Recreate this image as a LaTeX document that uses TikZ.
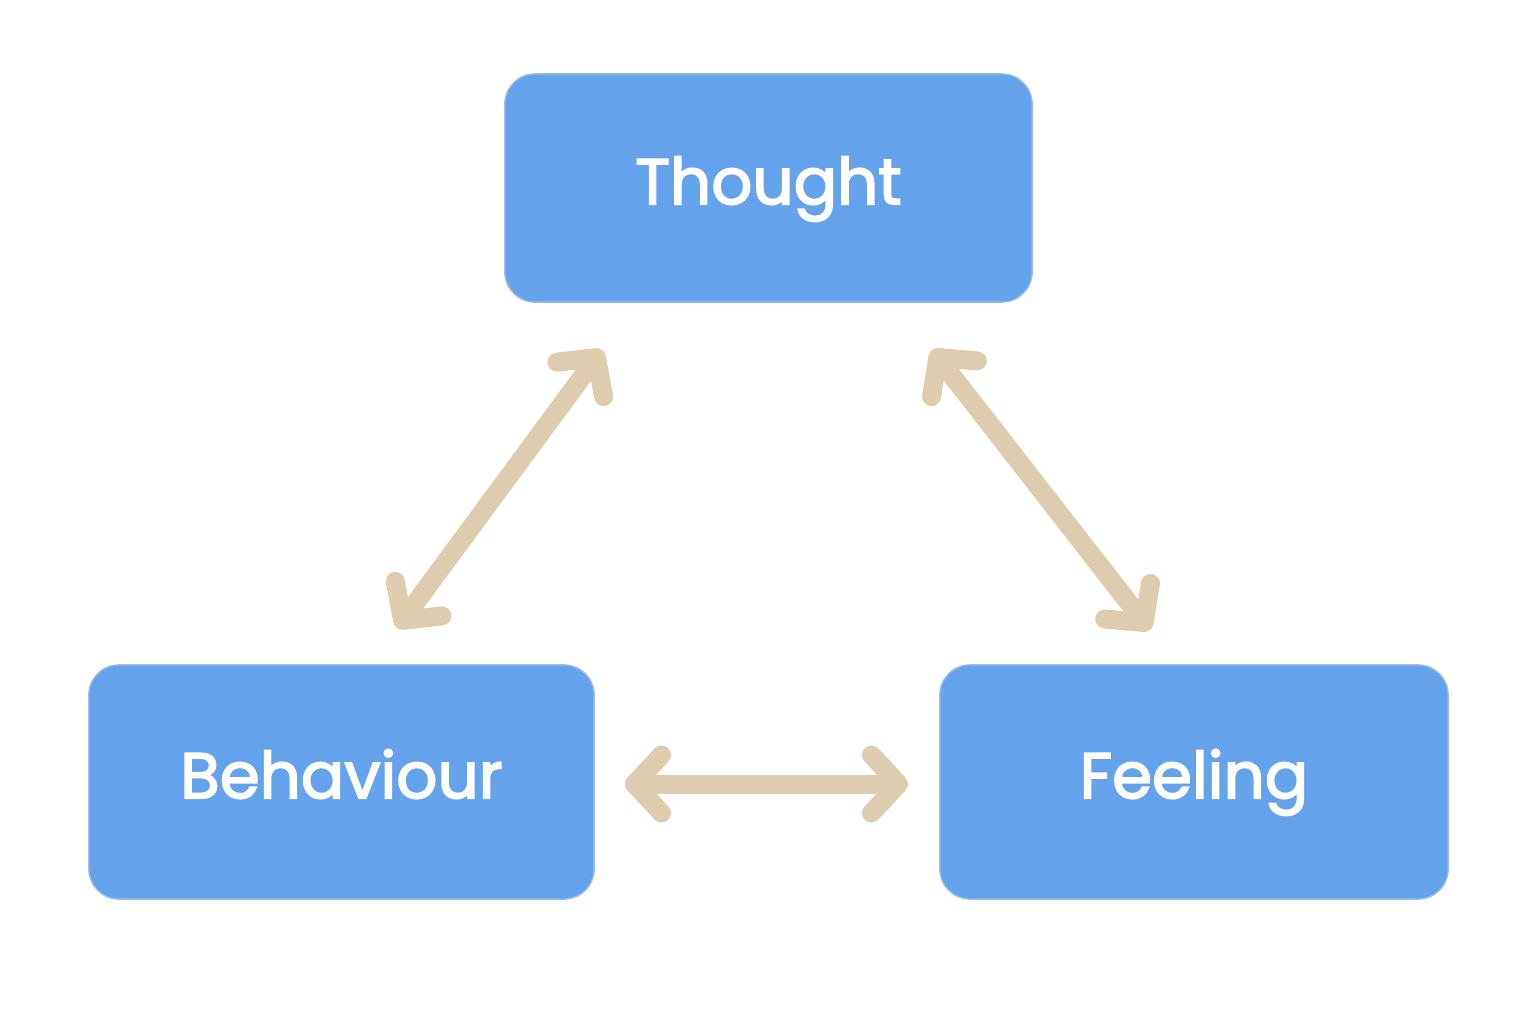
\documentclass[tikz,border=0pt]{standalone}
\usepackage{fontspec}
\setmainfont{Poppins}[FakeBold=2.6]
\usetikzlibrary{arrows.meta}
\definecolor{boxblue}{HTML}{64A2EC}
\definecolor{beige}{HTML}{DDCCAE}
\begin{document}
\begin{tikzpicture}[x=0.01cm,y=-0.01cm,
  box/.style={fill=boxblue, draw=boxblue!90!black!60, line width=0.4pt, rounded corners=0.3cm, inner sep=0pt, text=white, text height=0.94em, text depth=0.02em, font=\fontsize{18.3}{22}\selectfont},
  link/.style={draw=beige, line width=0.19cm, line cap=round, {Straight Barb[length=0.27cm,width=0.58cm,line cap=round,line join=round]}-{Straight Barb[length=0.27cm,width=0.58cm,line cap=round,line join=round]}}]
\useasboundingbox (0,0) rectangle (1536,1024);
\node[box, minimum width=5.27cm, minimum height=2.28cm] (thought) at (768.5,188) {Thought};
\node[box, minimum width=5.05cm, minimum height=2.34cm] (behaviour) at (341.5,782) {Behaviour};
\node[box, minimum width=5.08cm, minimum height=2.34cm] (feeling) at (1194,782) {Feeling};
\coordinate (l1) at (397,628);
\coordinate (l2) at (602,350);
\coordinate (r1) at (932,350);
\coordinate (r2) at (1150,630);
\coordinate (h1) at (625,784);
\coordinate (h2) at (908,784);
\draw[link] (l1) -- (l2);
\draw[link] (r1) -- (r2);
\draw[link] (h1) -- (h2);
\end{tikzpicture}
\end{document}
